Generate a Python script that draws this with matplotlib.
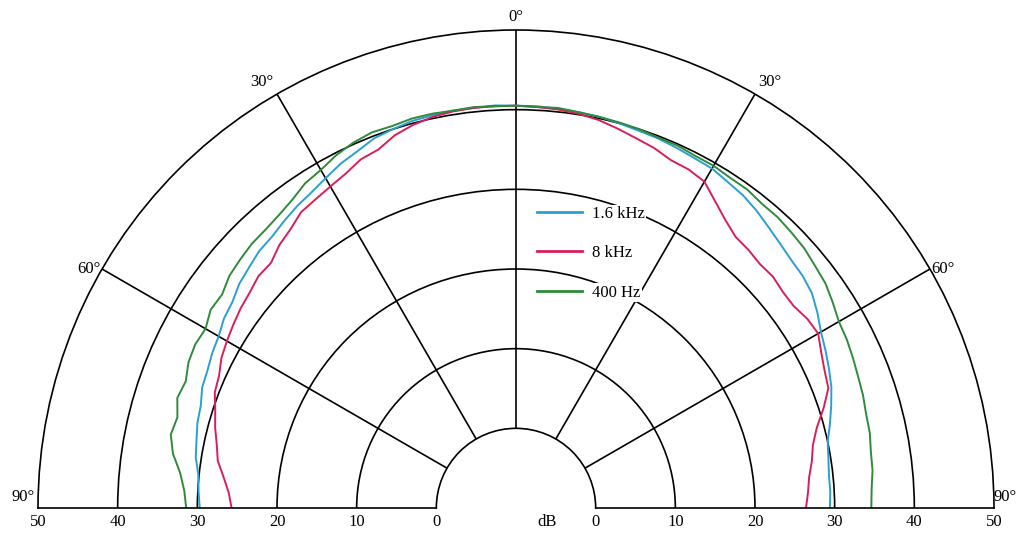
import numpy as np
import matplotlib.pyplot as plt

plt.rcParams['font.family'] = ['Liberation Serif', 'DejaVu Serif']

# angle in degrees, 0 = on axis, negative = left
angles = np.arange(-90, 91, 3)

cyan_16k = [29.7, 29.9, 30.1, 30.7, 31.0, 31.4, 31.6, 32.2, 32.4, 32.8,
            33.1, 33.7, 34.0, 34.7, 35.1, 35.6, 35.8, 36.3, 36.8, 37.2,
            37.8, 38.5, 39.0, 39.7, 40.0, 40.3, 40.4, 40.5, 40.5, 40.6,
            40.5,
            40.5, 40.4, 40.3, 40.2, 40.0, 39.8, 39.7, 39.5, 39.3, 39.2,
            38.8, 38.5, 38.0, 37.4, 36.9, 36.5, 36.3, 35.9, 35.1, 34.2,
            33.6, 33.0, 32.4, 31.6, 30.8, 30.0, 29.7, 29.5, 29.5, 29.4]
red_8k = [25.7, 26.1, 26.9, 27.9, 28.4, 29.1, 29.7, 30.5, 30.8, 31.5,
          31.9, 32.3, 32.7, 33.0, 33.5, 33.5, 34.4, 35.0, 35.9, 36.2,
          36.6, 37.1, 37.9, 38.2, 39.2, 39.8, 40.2, 40.4, 40.5, 40.5,
          40.5,
          40.4, 40.3, 40.1, 39.8, 39.3, 38.8, 38.4, 37.8, 37.7, 37.3,
          35.9, 34.7, 33.8, 33.6, 33.3, 33.4, 33.1, 33.1, 33.6, 33.8,
          33.0, 32.4, 32.0, 30.6, 29.1, 28.1, 27.6, 27.0, 26.7, 26.4]
green_400 = [31.4, 31.7, 32.4, 33.6, 34.3, 34.0, 34.7, 34.4, 35.0, 35.2,
             35.0, 35.7, 35.6, 36.3, 36.6, 36.9, 37.0, 37.3, 37.8, 38.6,
             39.0, 39.7, 40.2, 40.5, 40.4, 40.6, 40.6, 40.5, 40.6, 40.5,
             40.5,
             40.4, 40.5, 40.3, 40.2, 40.1, 40.0, 39.8, 39.8, 39.6, 39.6,
             39.4, 39.4, 39.1, 39.1, 38.9, 38.7, 38.3, 38.0, 37.4, 36.8,
             36.6, 36.3, 36.0, 35.8, 35.5, 35.4, 35.1, 35.0, 34.7, 34.6]

rings = [10, 20, 30, 40]
spokes = [-60, -30, 0, 30, 60]
deg_labels = ['60°', '30°', '0°', '30°', '60°']
db_ticks = [0, 10, 20, 30, 40, 50]

fig = plt.figure(figsize=(10.17, 5.41), dpi=100)
# square box: the half disc sits in the middle of it
ax = fig.add_axes([38 / 1017, (541 - 747) / 541, 956 / 1017, 956 / 541], projection='polar')
ax.set_theta_zero_location('N')
ax.set_theta_direction(-1)
ax.set_thetamin(-90)
ax.set_thetamax(90)
ax.set_rlim(0, 50)
ax.set_rorigin(-10)

ax.set_xticks(np.radians(spokes))
ax.set_xticklabels([''] * len(spokes))
ax.set_yticks(rings)
ax.set_yticklabels([''] * len(rings))
ax.tick_params(length=0)
ax.grid(True, color='black', lw=1.2)
for s in ax.spines.values():
    s.set_color('black')
    s.set_linewidth(1.2)

th = np.radians(angles)
ax.plot(th, cyan_16k, color='#2a9fd0', lw=1.4, label='1.6 kHz')
ax.plot(th, red_8k, color='#d81e5b', lw=1.4, label='8 kHz')
ax.plot(th, green_400, color='#2f8a3a', lw=1.4, label='400 Hz')

# angle labels around the rim, pushed a little outward
lab_pos = [(-60.7, 51.4), (-30.8, 52.2), (0, 51.6), (30.8, 52.2), (60.7, 51.4)]
for (a, r), lab in zip(lab_pos, deg_labels):
    ax.text(np.radians(a), r, lab, ha='center', va='center', fontsize=12)
ax.annotate('90°', xy=(np.radians(-90), 50), xytext=(-11, 8), annotation_clip=False,
            textcoords='offset points', ha='center', va='center', fontsize=12)
ax.annotate('90°', xy=(np.radians(90), 50), xytext=(8, 8), annotation_clip=False,
            textcoords='offset points', ha='center', va='center', fontsize=12)

# dB scale along the base line
for v in db_ticks:
    for side in (-90, 90):
        ax.annotate(str(v), xy=(np.radians(side), v), xytext=(0, -4), annotation_clip=False,
                    textcoords='offset points', ha='center', va='top', fontsize=12)
ax.annotate('dB', xy=(np.radians(90), -6.1), xytext=(0, -4), annotation_clip=False,
            textcoords='offset points', ha='center', va='top', fontsize=12)

leg = fig.legend(loc='upper left', bbox_to_anchor=(537 / 1017, 1 - 206 / 541),
                 frameon=False, fontsize=12, handlelength=2.7, labelspacing=1.4,
                 borderpad=0, borderaxespad=0, handletextpad=0.6)
for t in leg.get_texts():
    t.set_bbox(dict(facecolor='white', edgecolor='none', pad=1))
for l in leg.get_lines():
    l.set_linewidth(2)

fig.savefig('out.png', dpi=100)
